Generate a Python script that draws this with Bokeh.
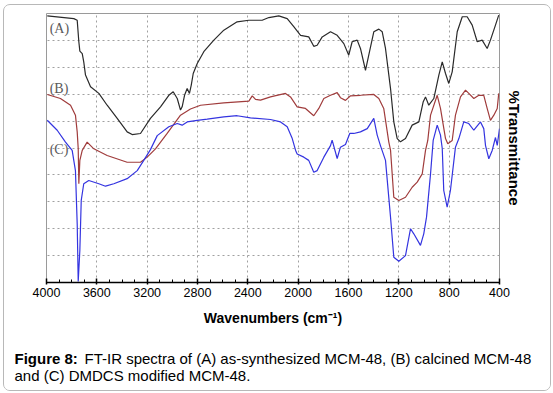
from bokeh.plotting import figure
from bokeh.models import Range1d, FixedTicker, Label, LinearAxis
from bokeh.layouts import column
from bokeh.core.properties import value
from bokeh.embed import file_html
from bokeh.resources import INLINE

# ---- data (wavenumber cm^-1, relative %T) ----
wn_a = [3994, 3783, 3756, 3743, 3735, 3716, 3704, 3690, 3650, 3584, 3518, 3438, 3359, 3319, 3253,
        3174, 3094, 3028, 2993, 2961, 2935, 2922, 2903, 2882, 2864, 2850, 2834, 2802, 2750, 2670,
        2591, 2485, 2392, 2286, 2233, 2154, 2087, 2035, 1981, 1916, 1876, 1849, 1809, 1743, 1690,
        1637, 1598, 1571, 1531, 1505, 1465, 1439, 1399, 1359, 1332, 1306, 1266, 1240, 1213, 1187,
        1147, 1094, 1041, 1006, 988, 962, 922, 882, 855, 829, 803, 776, 736, 696, 657, 617, 577,
        538, 498, 472, 432, 406]
t_a = [99.1, 98.1, 97.5, 89.5, 86.0, 85.1, 82.0, 77.1, 72.8, 70.3, 65.9, 61.0, 56.0, 55.0, 55.4,
       61.0, 65.3, 69.6, 70.9, 68.4, 64.1, 65.3, 69.6, 72.1, 70.3, 73.3, 77.7, 81.4, 85.8, 90.1,
       93.8, 96.9, 97.5, 97.5, 98.5, 99.1, 98.1, 95.1, 91.9, 91.3, 87.8, 88.2, 91.3, 93.2, 91.9,
       88.8, 84.5, 89.5, 90.1, 87.0, 78.9, 84.5, 93.2, 94.2, 93.2, 87.0, 72.1, 59.7, 53.5, 52.3,
       53.5, 58.5, 59.7, 67.2, 69.0, 65.9, 68.4, 77.1, 82.0, 77.7, 74.0, 78.3, 93.2, 98.8, 98.8,
       95.7, 89.5, 90.1, 87.0, 90.1, 95.7, 99.4]

wn_b = [3994, 3889, 3809, 3770, 3756, 3748, 3743, 3735, 3716, 3677, 3624, 3518, 3359, 3253, 3200,
        3134, 3041, 2935, 2856, 2776, 2591, 2392, 2365, 2339, 2299, 2220, 2101, 2061, 2008, 1942,
        1876, 1836, 1796, 1743, 1690, 1664, 1624, 1584, 1505, 1399, 1359, 1320, 1280, 1266, 1240,
        1200, 1147, 1094, 1054, 1014, 988, 970, 948, 895, 869, 829, 811, 776, 750, 710, 670, 644,
        604, 564, 525, 498, 472, 445, 418, 406]
t_b = [69.9, 68.4, 65.9, 62.2, 56.0, 49.8, 36.7, 45.4, 49.1, 52.2, 49.7, 47.2, 44.7, 44.7, 46.6,
       49.7, 55.4, 62.2, 64.5, 65.9, 66.8, 67.4, 69.4, 68.1, 67.8, 69.0, 70.3, 69.0, 65.3, 64.7,
       62.0, 64.7, 68.4, 69.6, 70.6, 68.7, 67.7, 69.4, 69.6, 69.9, 68.4, 64.7, 52.3, 49.2, 31.7,
       30.5, 31.7, 35.4, 37.3, 40.4, 49.1, 52.8, 62.2, 69.6, 64.7, 53.5, 51.6, 52.8, 62.2, 69.0,
       71.5, 70.3, 68.4, 69.6, 69.6, 64.7, 60.3, 62.2, 64.7, 70.3]

wn_c = [3994, 3915, 3849, 3796, 3770, 3756, 3748, 3735, 3724, 3704, 3664, 3584, 3531, 3465, 3359,
        3279, 3227, 3174, 3120, 3028, 2961, 2922, 2882, 2802, 2723, 2591, 2485, 2379, 2220, 2140,
        2087, 2047, 2021, 2008, 1955, 1916, 1876, 1849, 1796, 1743, 1730, 1690, 1664, 1624, 1590,
        1558, 1505, 1451, 1399, 1372, 1346, 1306, 1266, 1240, 1200, 1147, 1107, 1081, 1028, 1002,
        980, 948, 927, 895, 869, 855, 843, 816, 790, 750, 723, 684, 644, 604, 551, 525, 511, 485,
        458, 432, 418, 400]
t_c = [60.3, 56.6, 52.2, 49.1, 41.6, 21.8, 0.4, 11.9, 30.5, 36.7, 37.9, 36.7, 35.8, 36.7, 38.6,
       41.6, 45.4, 49.4, 54.6, 57.9, 59.1, 58.5, 59.7, 60.3, 60.7, 61.6, 62.0, 61.2, 60.6, 59.7,
       57.9, 53.5, 49.2, 47.8, 46.6, 45.4, 41.0, 41.6, 46.6, 50.9, 52.9, 46.1, 50.3, 51.3, 55.4,
       55.4, 56.0, 57.2, 61.0, 54.8, 50.9, 45.4, 24.3, 9.4, 7.9, 10.0, 20.0, 18.1, 13.8, 18.1,
       24.3, 40.4, 52.8, 58.5, 54.8, 49.8, 34.2, 28.0, 34.2, 50.3, 53.5, 59.7, 59.1, 56.6, 59.7,
       57.2, 50.9, 46.0, 49.1, 53.9, 51.0, 57.2]

x_ticks = [4000, 3600, 3200, 2800, 2400, 2000, 1600, 1200, 800, 400]
y_grid = [10, 20, 30, 40, 50, 60, 70, 80, 90]
series_labels = ["(A)", "(B)", "(C)"]
label_y = [94.5, 72.0, 49.5]
x_title = "Wavenumbers (cm\u207b\u00b9)"
y_title = "%Transmittance"
caption_bold = "Figure 8:"
caption_1 = "FT-IR spectra of (A) as-synthesized MCM-48, (B) calcined MCM-48"
caption_2 = "and (C) DMDCS modified MCM-48."

FONT = "Liberation Sans"
W = 546

# ---- main chart ----
p = figure(width=W, height=335, output_backend="svg", toolbar_location=None,
           x_range=Range1d(4000, 400), y_range=Range1d(0, 100),
           min_border_left=42, min_border_right=51, min_border_top=8, min_border_bottom=58)
p.frame_align = False
p.background_fill_color = "white"
p.border_fill_color = "white"
p.outline_line_color = "#9a9a9a"
p.outline_line_width = 1

p.yaxis.visible = False
ax = p.xaxis[0]
ax.ticker = FixedTicker(ticks=x_ticks, minor_ticks=list(range(400, 4001, 100)))
ax.axis_line_color = "black"
ax.axis_line_width = 1.5
ax.major_tick_line_color = "black"
ax.major_tick_line_width = 1.5
ax.major_tick_in = 4
ax.major_tick_out = 2
ax.minor_tick_line_color = "black"
ax.minor_tick_in = 3
ax.minor_tick_out = 0
ax.major_label_text_font = FONT
ax.major_label_text_font_size = "12.5px"
ax.major_label_text_color = "black"
ax.major_label_standoff = 3
ax.axis_label = x_title
ax.axis_label_text_font = FONT
ax.axis_label_text_font_size = "14px"
ax.axis_label_text_font_style = "bold"
ax.axis_label_text_color = "black"
ax.axis_label_standoff = 10

rax = LinearAxis(ticker=FixedTicker(ticks=[]), axis_line_color=None,
                 major_tick_line_color=None, minor_tick_line_color=None,
                 major_label_text_font_size="0px", major_label_standoff=0,
                 major_tick_out=0, major_tick_in=0,
                 axis_label=y_title, axis_label_text_font=FONT,
                 axis_label_text_font_size="15px", axis_label_text_font_style="bold",
                 axis_label_text_color="black", axis_label_standoff=6)
p.add_layout(rax, "right")

p.xgrid.ticker = FixedTicker(ticks=x_ticks[1:-1])
p.ygrid.ticker = FixedTicker(ticks=y_grid)
for g in (p.xgrid, p.ygrid):
    g.grid_line_color = "#a0a0a0"
    g.grid_line_dash = "2 3"
    g.grid_line_width = 1

p.line(wn_a, t_a, line_color="#2a2a2a", line_width=1.2)
p.line(wn_b, t_b, line_color="#a03c3c", line_width=1.2)
p.line(wn_c, t_c, line_color="#3434e0", line_width=1.2)

for lab, yv in zip(series_labels, label_y):
    p.add_layout(Label(x=3975, y=yv, text=lab, text_font="Liberation Serif",
                       text_font_size="14px", text_color="#5a5a5a",
                       text_baseline="middle", text_align="left"))

# ---- caption ----
c = figure(width=W, height=50, output_backend="svg", toolbar_location=None,
           x_range=Range1d(0, W), y_range=Range1d(50, 0),
           min_border_left=0, min_border_right=0, min_border_top=0, min_border_bottom=0)
c.frame_align = False
c.axis.visible = False
c.grid.visible = False
c.outline_line_color = None
c.background_fill_color = "white"
c.border_fill_color = "white"
c.text(x=[10], y=[18], text=[caption_bold], text_font=value(FONT), text_font_size="15px",
       text_font_style="bold", text_color="black", text_baseline="alphabetic", text_align="left")
c.text(x=[80], y=[18], text=[caption_1], text_font=value(FONT), text_font_size="15px",
       text_color="black", text_baseline="alphabetic", text_align="left")
c.text(x=[10], y=[34.5], text=[caption_2], text_font=value(FONT), text_font_size="15px",
       text_color="black", text_baseline="alphabetic", text_align="left")

layout = column(p, c, width=W, height=385)
layout.styles = {"border": "1px solid #b8b8b8", "border-radius": "7px", "overflow": "hidden",
                 "box-sizing": "content-box", "margin": "4px 0px 0px 3px"}

open("out.html", "w").write(file_html(layout, INLINE))
